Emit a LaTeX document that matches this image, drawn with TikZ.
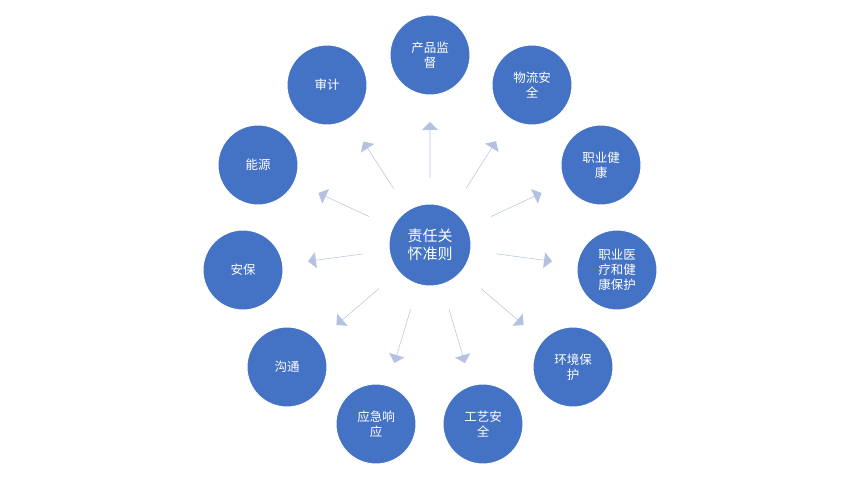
\documentclass[tikz,border=0pt]{standalone}
\usepackage{fontspec}
\newfontfamily\cjk{Noto Sans CJK SC}
\usetikzlibrary{shapes.arrows,calc}
\begin{document}
\begin{tikzpicture}[x=1pt,y=-1pt,
  bub/.style={circle,fill=blue1,draw=white,line width=1pt,minimum size=80pt,inner sep=0pt,text=white,font=\cjk\fontsize{12.5}{15}\selectfont,align=center},
  arr/.style={single arrow,fill=arrc,draw=none,minimum height=56pt,minimum width=16pt,inner sep=0pt,single arrow head extend=6pt,shape border uses incircle=false}]
\definecolor{blue1}{HTML}{4472C4}
\definecolor{arrc}{HTML}{B4C1E1}
\useasboundingbox (0,0) rectangle (866,478);
\node[bub,minimum size=82pt,font=\cjk\fontsize{15}{18}\selectfont] (c) at (430,245) {责任关\\怀准则};
\node[bub] (a1) at (430,55) {产品监\\督};
\node[bub] (a2) at (532,85) {物流安\\全};
\node[bub] (a3) at (601,165) {职业健\\康};
\node[bub] (a4) at (617,270) {职业医\\疗和健\\康保护};
\node[bub] (a5) at (573,367) {环境保\\护};
\node[bub] (a6) at (483,424) {工艺安\\全};
\node[bub] (a7) at (376,424) {应急响\\应};
\node[bub] (a8) at (287,367) {沟通};
\node[bub] (a9) at (243,270) {安保};
\node[bub] (a10) at (258,165) {能源};
\node[bub] (a11) at (327,85) {审计};
\foreach \ang [count=\i] in {90,57.5,25,-7.6,-40.5,-73.5,-106.8,-139.5,-172.4,155,122.8}{
  \node[arr,rotate=\ang] (r\i) at ($(c)+(\ang:95pt)$) {};
}
\end{tikzpicture}
\end{document}
